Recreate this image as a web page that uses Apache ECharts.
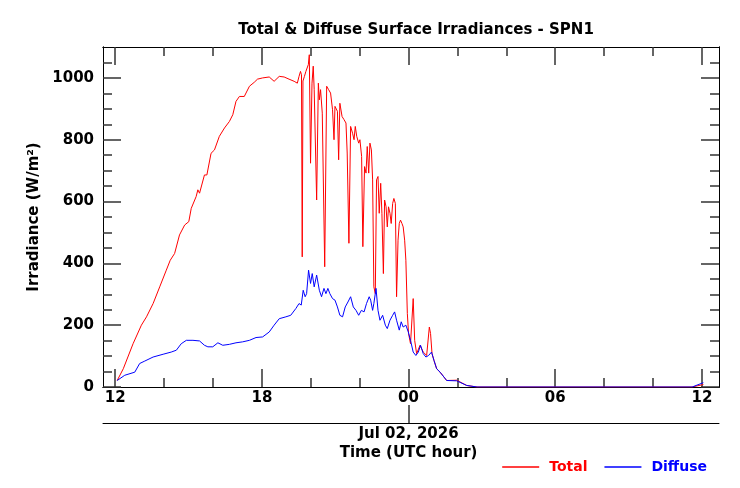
<!DOCTYPE html>
<html>
<head>
<meta charset="utf-8">
<script src="https://cdn.jsdelivr.net/npm/echarts@6/dist/echarts.min.js"></script>
<style>
  html, body { margin: 0; padding: 0; background: #fff; }
  #chart { width: 740px; height: 488px; }
</style>
</head>
<body>
<div id="chart"></div>
<script>
// hours since Jul 01 00 UTC
const totalHours = [12.08, 12.33, 12.73, 13.07, 13.28, 13.55, 13.82, 14.09, 14.25, 14.43, 14.63, 14.84, 15.01, 15.11, 15.31, 15.38, 15.45, 15.65, 15.75, 15.92,
  16.06, 16.26, 16.47, 16.67, 16.81, 16.94, 17.08, 17.28, 17.49, 17.69, 17.82, 18.03, 18.30, 18.50, 18.71, 18.91, 19.11, 19.32, 19.45, 19.52,
  19.58, 19.62, 19.65, 19.68, 19.74, 19.80, 19.90, 19.94, 19.99, 20.05, 20.10, 20.14, 20.24, 20.31, 20.35, 20.40, 20.47, 20.57, 20.65, 20.73,
  20.81, 20.89, 20.95, 20.99, 21.09, 21.14, 21.19, 21.28, 21.36, 21.44, 21.49, 21.56, 21.63, 21.71, 21.77, 21.82, 21.88, 21.96, 22.01, 22.08,
  22.13, 22.20, 22.26, 22.31, 22.37, 22.42, 22.48, 22.53, 22.58, 22.64, 22.69, 22.75, 22.80, 22.86, 22.91, 22.97, 23.02, 23.08, 23.13, 23.18,
  23.24, 23.29, 23.35, 23.40, 23.46, 23.51, 23.57, 23.62, 23.67, 23.73, 23.78, 23.84, 23.89, 23.95, 24.00, 24.08, 24.19, 24.25, 24.33, 24.47,
  24.53, 24.60, 24.74, 24.85, 24.90, 24.96, 25.04, 25.15, 25.29, 25.56, 25.97, 26.38, 26.80, 30.00, 35.60, 36.06];
const totalValues = [21, 59, 140, 200, 227, 270, 324, 378, 410, 432, 492, 524, 535, 578, 616, 638, 627, 686, 686, 756,
  767, 811, 838, 859, 881, 924, 940, 940, 973, 986, 996, 1000, 1003, 989, 1005, 1003, 996, 989, 983, 1005,
  1021, 1010, 421, 990, 1005, 1021, 1043, 1075, 724, 983, 1038, 962, 605, 983, 929, 962, 886, 389, 973, 962,
  951, 897, 800, 908, 892, 735, 918, 875, 865, 854, 757, 465, 843, 821, 800, 843, 811, 789, 800, 746,
  454, 713, 692, 778, 692, 789, 767, 670, 324, 302, 670, 681, 562, 659, 562, 367, 605, 583, 518, 583,
  562, 529, 594, 610, 594, 292, 475, 529, 540, 529, 518, 475, 410, 238, 173, 140, 286, 151, 108, 135,
  140, 113, 102, 194, 173, 108, 86, 59, 48, 21, 22, 5, 0, 0, 0, 8];

const diffuseHours = [12.08, 12.39, 12.80, 13.00, 13.21, 13.55, 13.96, 14.29, 14.50, 14.70, 14.91, 15.18, 15.45, 15.65, 15.79, 15.99, 16.20, 16.40, 16.67, 16.94,
  17.21, 17.49, 17.76, 18.03, 18.30, 18.50, 18.71, 18.98, 19.18, 19.39, 19.52, 19.61, 19.69, 19.77, 19.83, 19.91, 19.99, 20.06, 20.14, 20.24,
  20.35, 20.44, 20.54, 20.62, 20.70, 20.78, 20.89, 20.99, 21.09, 21.19, 21.30, 21.41, 21.52, 21.63, 21.74, 21.85, 21.96, 22.07, 22.18, 22.28,
  22.39, 22.45, 22.53, 22.58, 22.67, 22.75, 22.83, 22.94, 23.05, 23.13, 23.24, 23.35, 23.43, 23.51, 23.62, 23.70, 23.78, 23.89, 23.99, 24.08,
  24.19, 24.30, 24.40, 24.49, 24.60, 24.71, 24.82, 24.94, 25.04, 25.15, 25.29, 25.56, 25.97, 26.38, 26.80, 35.60, 36.06];
const diffuseValues = [21, 38, 48, 76, 84, 97, 106, 113, 119, 140, 151, 151, 149, 135, 130, 130, 143, 135, 138, 143,
  146, 151, 160, 162, 178, 200, 221, 227, 232, 254, 270, 265, 313, 292, 302, 378, 335, 367, 324, 362,
  313, 292, 319, 302, 319, 302, 286, 281, 259, 232, 227, 259, 275, 292, 259, 248, 232, 248, 243, 270,
  292, 281, 248, 270, 319, 248, 216, 232, 200, 189, 216, 232, 243, 216, 184, 211, 194, 200, 178, 151,
  113, 102, 113, 135, 108, 97, 102, 113, 86, 59, 48, 21, 20, 5, 0, 0, 14];

const xMajorTicks = [12, 18, 24, 30, 36];
const xMinorTicks = [14, 16, 20, 22, 26, 28, 32, 34];
const yMajorTicks = [0, 200, 400, 600, 800, 1000];
const yMinorTicks = [50, 100, 150, 250, 300, 350, 450, 500, 550, 650, 700, 750, 850, 900, 950, 1050];
const dateTick = [24];
const dateLabel = "Jul 02, 2026\nTime (UTC hour)";

const FONT = "DejaVu Sans";
const chart = echarts.init(document.getElementById("chart"));

function pairs(xs, ys) {
  return xs.map((x, i) => [x, ys[i]]);
}

function xAx(pos, ticks, len, showLabel) {
  return {
    type: "value", position: pos, min: 11.5, max: 36.7,
    axisLine: { show: true, onZero: false, lineStyle: { color: "#000", width: 1 } },
    axisTick: { show: true, inside: true, length: len, customValues: ticks, lineStyle: { color: "#333", width: 1.5 } },
    axisLabel: {
      show: showLabel, customValues: ticks, margin: 4,
      fontFamily: FONT, fontWeight: "bold", fontSize: 15, color: "#000",
      formatter: (v) => String(Math.round(v) % 24).padStart(2, "0"),
    },
    splitLine: { show: false },
  };
}

function yAx(pos, ticks, len, showLabel) {
  return {
    type: "value", position: pos, min: 0, max: 1100,
    axisLine: { show: true, onZero: false, lineStyle: { color: "#000", width: 1 } },
    axisTick: { show: true, inside: true, length: len, customValues: ticks, lineStyle: { color: "#333", width: 1.5 } },
    axisLabel: {
      show: showLabel, customValues: ticks, margin: 9,
      fontFamily: FONT, fontWeight: "bold", fontSize: 15, color: "#000",
      formatter: (v) => String(v),
    },
    splitLine: { show: false },
  };
}

const yLeft = yAx("left", yMajorTicks, 18, true);
yLeft.name = "Irradiance (W/m²)";
yLeft.nameLocation = "middle";
yLeft.nameGap = 59;
yLeft.nameTextStyle = { fontFamily: FONT, fontWeight: "bold", fontSize: 15, color: "#000" };

const option = {
  animation: false,
  backgroundColor: "#fff",
  title: {
    text: "Total & Diffuse Surface Irradiances - SPN1",
    left: 411, top: 18, textAlign: "center",
    textStyle: { fontFamily: FONT, fontWeight: "bold", fontSize: 15, color: "#000" },
  },
  grid: { left: 103, right: 21, top: 47, bottom: 101 },
  legend: {
    right: 28, top: 455, itemWidth: 37, itemHeight: 1.5, itemGap: 17, icon: "rect",
    textStyle: { fontFamily: FONT, fontWeight: "bold", fontSize: 14, padding: [0, 0, 0, 5] },
    data: [
      { name: "Total", textStyle: { color: "#ff0000", padding: [0, 0, 0, 5] } },
      { name: "Diffuse", textStyle: { color: "#0000ff", padding: [0, 0, 0, 5] } },
    ],
  },
  xAxis: [
    xAx("bottom", xMajorTicks, 18, true),
    xAx("bottom", xMinorTicks, 9, false),
    xAx("top", xMajorTicks, 18, false),
    xAx("top", xMinorTicks, 9, false),
    {
      type: "value", position: "bottom", offset: 36, min: 11.5, max: 36.7,
      axisLine: { show: true, onZero: false, lineStyle: { color: "#000", width: 1 } },
      axisTick: { show: true, inside: true, length: 18, customValues: dateTick, lineStyle: { color: "#333", width: 1.5 } },
      axisLabel: {
        customValues: dateTick, margin: 2, lineHeight: 19,
        fontFamily: FONT, fontWeight: "bold", fontSize: 15, color: "#000",
        formatter: () => dateLabel,
      },
      splitLine: { show: false },
    },
  ],
  yAxis: [
    yLeft,
    yAx("left", yMinorTicks, 9, false),
    yAx("right", yMajorTicks, 18, false),
    yAx("right", yMinorTicks, 9, false),
  ],
  series: [
    {
      name: "Total", type: "line", symbol: "none", xAxisIndex: 0, yAxisIndex: 0,
      data: pairs(totalHours, totalValues),
      lineStyle: { color: "#ff0000", width: 1 }, itemStyle: { color: "#ff0000" },
    },
    {
      name: "Diffuse", type: "line", symbol: "none", xAxisIndex: 0, yAxisIndex: 0,
      data: pairs(diffuseHours, diffuseValues),
      lineStyle: { color: "#0000ff", width: 1 }, itemStyle: { color: "#0000ff" },
    },
  ],
};
chart.setOption(option);
</script>
</body>
</html>
